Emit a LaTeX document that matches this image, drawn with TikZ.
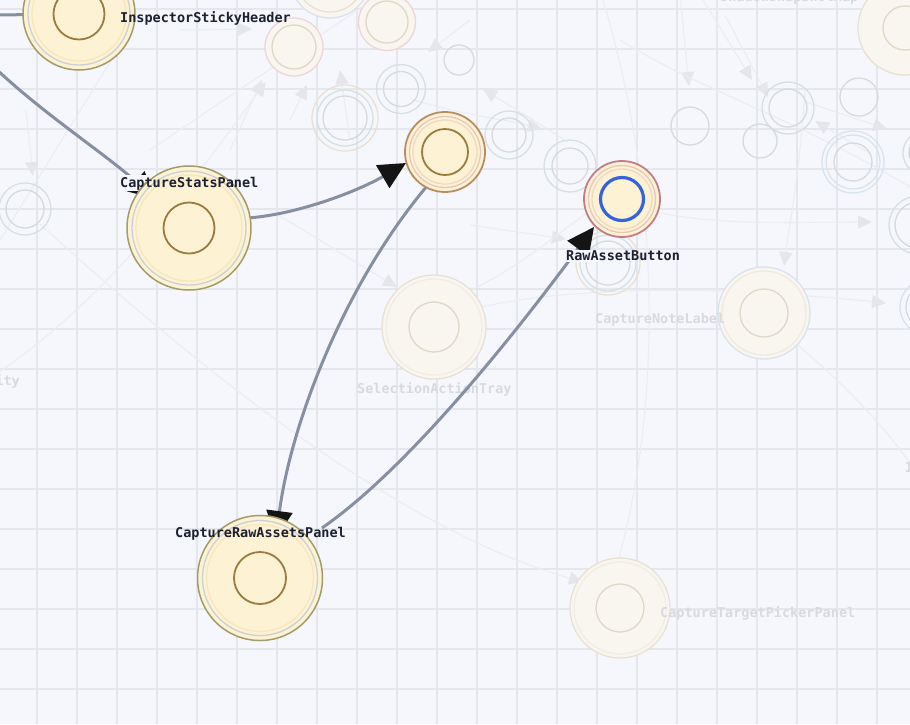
\documentclass[tikz,border=0pt]{standalone}
\usepackage{fontspec}
\usetikzlibrary{arrows.meta}
\newfontfamily\monof{DejaVu Sans Mono}
\definecolor{bgc}{HTML}{F6F7FC}
\definecolor{gridc}{HTML}{E6E7ED}
\definecolor{edgec}{HTML}{878FA2}
\definecolor{nfill}{HTML}{FDF2D3}
\definecolor{olive}{HTML}{A29C6B}
\definecolor{ringb}{HTML}{C9D1D7}
\definecolor{ringy}{HTML}{F6E6BE}
\definecolor{innerc}{HTML}{9B7B3E}
\definecolor{midout}{HTML}{B98C62}
\definecolor{pinkring}{HTML}{E8C6BC}
\definecolor{pinkring2}{HTML}{F0D8C2}
\definecolor{rabout}{HTML}{C27D89}
\definecolor{blueinner}{HTML}{3563E0}
\definecolor{txt}{HTML}{1C2030}
\definecolor{ftxt}{HTML}{D8DADF}
\definecolor{fedge}{HTML}{ECEDF2}
\definecolor{farrow}{HTML}{E4E6EB}
\definecolor{ffill}{HTML}{F8F6EF}
\definecolor{fbeige}{HTML}{E9E1D2}
\definecolor{ftan}{HTML}{E0D7C6}
\definecolor{fpink}{HTML}{EDD5DA}
\definecolor{fteal}{HTML}{D6E0E1}
\definecolor{fgray}{HTML}{D6D9DD}
\definecolor{fblue}{HTML}{D9E3EE}
\begin{document}
\begin{tikzpicture}[x=1pt,y=-1pt,
  lbl/.style={font=\monof\bfseries\fontsize{13.5}{15}\selectfont, text=txt, inner sep=0pt},
  flbl/.style={lbl, text=ftxt},
  mainedge/.style={draw=edgec, line width=3pt, -{Triangle[length=27pt,width=26pt,color=black!92]}},
  plainedge/.style={draw=edgec, line width=3pt},
  fedgea/.style={draw=fedge, line width=1.1pt, -{Triangle[length=14pt,width=13pt,color=farrow]}},
  fedgep/.style={draw=fedge, line width=1.1pt},
  circ/.style={circle, inner sep=0pt, line width=1.5pt},
  fnode/.style={circ, line width=1.3pt},
  ring/.style={line width=1.3pt}]
\useasboundingbox (0,0) rectangle (910,724);
\fill[bgc] (0,0) rectangle (910,724);
% grid
\foreach \gx in {37,77,...,877} \draw[gridc, line width=1.6pt] (\gx,0) -- (\gx,724);
\foreach \gy in {9,49,...,689} \draw[gridc, line width=1.6pt] (0,\gy) -- (910,\gy);

% ---------- faint nodes (positions) ----------
\coordinate (f1) at (330,-22);
\coordinate (f2) at (294,47);
\coordinate (f3) at (387,22);
\coordinate (f4) at (401,89);
\coordinate (f5) at (345,118);
\coordinate (f6) at (459,60);
\coordinate (f7) at (509,135);
\coordinate (f8) at (570,166);
\coordinate (f9) at (690,126);
\coordinate (f10) at (760,141);
\coordinate (f11) at (788,108);
\coordinate (f12) at (859,97);
\coordinate (f13) at (853,162);
\coordinate (f14) at (925,153);
\coordinate (f15) at (905,28);
\coordinate (f16) at (25,209);
\coordinate (f17) at (608,263);
\coordinate (sat) at (434,327);
\coordinate (cnl) at (764,313);
\coordinate (ctpp) at (620,608);
\coordinate (f21) at (918,225);
\coordinate (f22) at (928,307);

% ---------- faint edges ----------
\draw[fedgea] ([shift={(15,15)}]f16) .. controls (200,370) and (400,530) .. ([shift={(-37,-26)}]ctpp);
\draw[fedgea] (-5,375) .. controls (120,290) and (200,170) .. ([shift={(-28,35)}]f2);
\draw[fedgea] ([shift={(26,-15)}]sat) .. controls (580,280) and (760,290) .. ([shift={(-42,-4)}]f22);
\draw[fedgep] (600,-10) .. controls (665,200) and (662,420) .. ([shift={(-8,-26)}]ctpp);
\draw[fedgea] (655,212) .. controls (720,226) and (800,222) .. ([shift={(-46,-3)}]f21);
\draw[fedgea] (270,210) .. controls (320,240) and (360,265) .. ([shift={(-37,-40)}]sat);
\draw[fedgea] (26,110) -- ([shift={(8,-33)}]f16);
\draw[fedgea] ([shift={(-2,-24)}]f8) -- (483,89);
\draw[fedgea] ([shift={(10,10)}]f4) .. controls (460,115) and (500,118) .. (542,129);
\draw[fedgea] (700,-5) -- (752,80);
\draw[fedgea] (725,15) -- (768,97);
\draw[fedgea] (680,-5) -- (689,86);
\draw[fedgea] (805,90) .. controls (800,170) and (790,220) .. (784,266);
\draw[fedgea] ([shift={(18,-8)}]f13) -- (815,121);
\draw[fedgea] ([shift={(18,-6)}]f11) -- (887,129);
\draw[fedgea] (470,225) -- (566,239);
\draw[fedgea] (180,30) -- (252,29);
\draw[fedgea] (230,150) -- (262,80);
\draw[fedgea] (290,120) -- (307,85);
\draw[fedgea] (350,140) -- (340,70);
\draw[fedgea] (395,-5) -- (393,45);
\draw[fedgea] (470,20) -- (428,52);
\draw[fedgep] (150,150) -- (380,-5);
\draw[fedgep] (0,240) -- (130,30);
\draw[fedgep] (780,330) .. controls (840,380) and (880,420) .. (915,470);
\draw[fedgep] (450,300) .. controls (520,270) and (560,230) .. (592,210);
\draw[fedgep] (620,40) .. controls (700,90) and (800,120) .. (915,190);

% ---------- faint nodes ----------
\node[fnode, draw=fblue, fill=ffill, minimum size=80pt] (n1) at (f1) {};
\draw[ring, fbeige] (f1) circle[radius=34];
\node[fnode, draw=fpink, fill=ffill, minimum size=58pt] (n2) at (f2) {};
\draw[ring, ftan] (f2) circle[radius=22];
\node[fnode, draw=fpink, fill=ffill, minimum size=57pt] (n3) at (f3) {};
\draw[ring, ftan] (f3) circle[radius=21];
\node[fnode, draw=fteal, minimum size=49pt] (n4) at (f4) {};
\draw[ring, fgray] (f4) circle[radius=17.5];
\node[fnode, draw=fbeige, minimum size=66pt] (n5) at (f5) {};
\draw[ring, fteal] (f5) circle[radius=28];
\draw[ring, fgray] (f5) circle[radius=22];
\node[fnode, draw=fgray, minimum size=30pt] (n6) at (f6) {};
\node[fnode, draw=fteal, minimum size=48pt] (n7) at (f7) {};
\draw[ring, fgray] (f7) circle[radius=17];
\node[fnode, draw=fteal, minimum size=52pt] (n8) at (f8) {};
\draw[ring, fgray] (f8) circle[radius=18];
\node[fnode, draw=fgray, minimum size=38pt] (n9) at (f9) {};
\node[fnode, draw=fgray, minimum size=34pt] (n10) at (f10) {};
\node[fnode, draw=fteal, minimum size=52pt] (n11) at (f11) {};
\draw[ring, fgray] (f11) circle[radius=19];
\node[fnode, draw=fgray, minimum size=38pt] (n12) at (f12) {};
\node[fnode, draw=fblue, minimum size=62pt] (n13) at (f13) {};
\draw[ring, fblue] (f13) circle[radius=27];
\draw[ring, fgray] (f13) circle[radius=19];
\node[fnode, draw=fteal, minimum size=44pt] (n14) at (f14) {};
\draw[ring, fgray] (f14) circle[radius=16];
\node[fnode, draw=fbeige, fill=ffill, minimum size=94pt] (n15) at (f15) {};
\draw[ring, ftan] (f15) circle[radius=22];
\node[fnode, draw=fteal, minimum size=52pt] (n16) at (f16) {};
\draw[ring, fgray] (f16) circle[radius=19];
\node[fnode, draw=fbeige, minimum size=64pt] (n17) at (f17) {};
\draw[ring, fteal] (f17) circle[radius=28];
\draw[ring, fgray] (f17) circle[radius=22];
\node[fnode, draw=fbeige, fill=ffill, minimum size=104pt] (n18) at (sat) {};
\draw[ring, fbeige!60] (sat) circle[radius=48];
\draw[ring, ftan] (sat) circle[radius=25];
\node[fnode, draw=fblue, fill=ffill, minimum size=92pt] (n19) at (cnl) {};
\draw[ring, fbeige!70] (cnl) circle[radius=42];
\draw[ring, ftan] (cnl) circle[radius=24];
\node[fnode, draw=fbeige, fill=ffill, minimum size=100pt] (n20) at (ctpp) {};
\draw[ring, fbeige!60] (ctpp) circle[radius=46];
\draw[ring, ftan] (ctpp) circle[radius=24];
\node[fnode, draw=fteal, minimum size=58pt] (n21) at (f21) {};
\draw[ring, fgray] (f21) circle[radius=23];
\node[fnode, draw=fblue, minimum size=56pt] (n22) at (f22) {};
\draw[ring, fgray] (f22) circle[radius=22];

% faint labels
\node[flbl, anchor=base west] (lsat) at (357,393) {SelectionActionTray};
\node[flbl, anchor=base west] (lcnl) at (595,323) {CaptureNoteLabel};
\node[flbl, anchor=base west] (lctpp) at (660,617) {CaptureTargetPickerPanel};
\node[flbl, anchor=base east] (lity) at (20,385) {ity};
\node[flbl, anchor=base west] (li) at (905,472) {I};
\node[flbl, anchor=base west] (ltop) at (720,1) {ShadowSnapshotMap};

% ---------- main node positions ----------
\coordinate (ishc) at (79,14);
\coordinate (cspc) at (189,228);
\coordinate (midc) at (445,152);
\coordinate (rabc) at (622,199);
\coordinate (crapc) at (260,578);
\coordinate (lin) at (-5,15);
\coordinate (lcsp) at (-5,68);

% ---------- main edges ----------
\draw[plainedge] (lin) -- (ishc);
\draw[mainedge] (lcsp) .. controls (45,115) and (100,150) .. ([shift={(-33,-29)}]cspc);
\draw[mainedge] ([shift={(59,-10)}]cspc) .. controls (300,214) and (360,190) .. ([shift={(-39,11)}]midc);
\draw[mainedge] ([shift={(-18,34)}]midc) .. controls (340,290) and (290,430) .. ([shift={(16,-40)}]crapc);
\draw[mainedge] ([shift={(62,-50)}]crapc) .. controls (420,460) and (540,300) .. ([shift={(-28,28)}]rabc);

% ---------- main nodes ----------
% InspectorStickyHeader
\node[circ, draw=olive, fill=nfill, minimum size=112pt] (ish) at (ishc) {};
\draw[ring, ringb] (ishc) circle[radius=51];
\draw[ring, ringy] (ishc) circle[radius=47];
\draw[innerc, line width=1.8pt] (ishc) circle[radius=25.5];
% CaptureStatsPanel
\node[circ, draw=olive, fill=nfill, minimum size=124pt] (csp) at (cspc) {};
\draw[ring, ringb] (cspc) circle[radius=57];
\draw[ring, ringy] (cspc) circle[radius=53];
\draw[innerc, line width=1.8pt] (cspc) circle[radius=25.5];
% middle node
\node[circ, draw=midout, fill=nfill, minimum size=80pt, line width=1.8pt] (mid) at (midc) {};
\draw[ring, pinkring] (midc) circle[radius=35.5];
\draw[ring, pinkring2] (midc) circle[radius=32];
\draw[innerc, line width=1.8pt] (midc) circle[radius=23];
% RawAssetButton
\node[circ, draw=rabout, fill=nfill, minimum size=76pt, line width=1.8pt] (rab) at (rabc) {};
\draw[ring, pinkring] (rabc) circle[radius=33.5];
\draw[ring, pinkring2] (rabc) circle[radius=30];
\draw[blueinner, fill=nfill, line width=3.2pt] (rabc) circle[radius=21.5];
% CaptureRawAssetsPanel
\node[circ, draw=olive, fill=nfill, minimum size=125pt] (crap) at (crapc) {};
\draw[ring, ringb] (crapc) circle[radius=57.5];
\draw[ring, ringy] (crapc) circle[radius=53.5];
\draw[innerc, line width=1.8pt] (crapc) circle[radius=26];

% ---------- label halos (background patches outside the nodes) ----------
\begin{scope}
  \clip (121,175) rectangle (165,190);
  \fill[bgc, even odd rule] (100,160) rectangle (180,200) (cspc) circle[radius=63];
\end{scope}
\fill[bgc] (564,250) rectangle (600,262);

% ---------- main labels ----------
\node[lbl, anchor=base west] (lish) at (120,22) {InspectorStickyHeader};
\node[lbl, anchor=base west] (lcsp2) at (120,187) {CaptureStatsPanel};
\node[lbl, anchor=base west] (lrab) at (566,260) {RawAssetButton};
\node[lbl, anchor=base west] (lcrap) at (175,537) {CaptureRawAssetsPanel};
\end{tikzpicture}
\end{document}
